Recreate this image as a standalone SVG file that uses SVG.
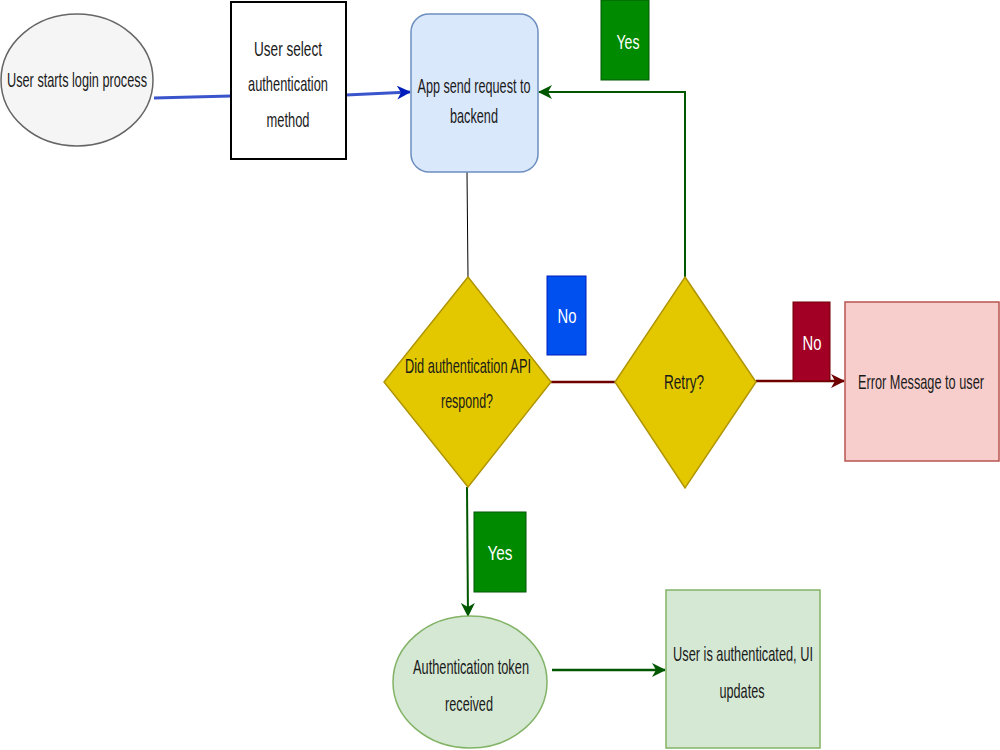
<svg xmlns="http://www.w3.org/2000/svg" width="1000" height="750" viewBox="0 0 1000 750">
<style>
text{font-family:"Liberation Sans",Arial,sans-serif;font-size:21px;fill:#1a1a1a;text-anchor:middle}
.lbl{fill:#ffffff}
.conn{fill:none}
</style>
<defs>
<marker id="aBlue" markerUnits="userSpaceOnUse" markerWidth="14" markerHeight="14" viewBox="0 0 14 14" refX="13" refY="7" orient="auto">
<path d="M0,0 L14,7 L0,14 L4,7 z" fill="#001dbc"/>
</marker>
<marker id="aGreen" markerUnits="userSpaceOnUse" markerWidth="14" markerHeight="14" viewBox="0 0 14 14" refX="13" refY="7" orient="auto">
<path d="M0,0 L14,7 L0,14 L4,7 z" fill="#005700"/>
</marker>
<marker id="aRed" markerUnits="userSpaceOnUse" markerWidth="14" markerHeight="14" viewBox="0 0 14 14" refX="13" refY="7" orient="auto">
<path d="M0,0 L14,7 L0,14 L4,7 z" fill="#6f0000"/>
</marker>
</defs>
<rect width="1000" height="750" fill="#ffffff"/>

<g id="connectors">
<path class="conn" d="M154,98 L231,96" stroke="#3a55cc" stroke-width="3"/>
<path class="conn" d="M346,95 L410,92" stroke="#3a55cc" stroke-width="3" marker-end="url(#aBlue)"/>
<path class="conn" d="M467,172 L468,277" stroke="#000000" stroke-width="1"/>
<path class="conn" d="M551,382 L615,382" stroke="#6f0000" stroke-width="2.5"/>
<path class="conn" d="M756,381 L844,381" stroke="#6f0000" stroke-width="2.5" marker-end="url(#aRed)"/>
<path class="conn" d="M685,277 L685,92 L539,92" stroke="#005700" stroke-width="2" marker-end="url(#aGreen)"/>
<path class="conn" d="M467,487 L468,616" stroke="#005700" stroke-width="2" marker-end="url(#aGreen)"/>
<path class="conn" d="M552,670 L665,670" stroke="#005700" stroke-width="2.5" marker-end="url(#aGreen)"/>
</g>

<g id="start">
<ellipse cx="77" cy="80" rx="76" ry="66" fill="#f5f5f5" stroke="#666666" stroke-width="1.5"/>
<text x="77" y="87" textLength="140" lengthAdjust="spacingAndGlyphs">User starts login process</text>
</g>

<g id="select">
<rect x="231" y="2" width="115" height="157" fill="#ffffff" stroke="#000000" stroke-width="2"/>
<text x="288" y="56" textLength="68" lengthAdjust="spacingAndGlyphs">User select</text>
<text x="288" y="91" textLength="80" lengthAdjust="spacingAndGlyphs">authentication</text>
<text x="288" y="127" textLength="43" lengthAdjust="spacingAndGlyphs">method</text>
</g>

<g id="request">
<rect x="411" y="14" width="127" height="158" rx="18" ry="18" fill="#dae8fc" stroke="#6c8ebf" stroke-width="1.5"/>
<text x="474" y="93" textLength="113" lengthAdjust="spacingAndGlyphs">App send request to</text>
<text x="474" y="123" textLength="48" lengthAdjust="spacingAndGlyphs">backend</text>
</g>

<g id="api">
<polygon points="468,277 551,382 468,487 384,382" fill="#e3c800" stroke="#b09500" stroke-width="1.5"/>
<text x="468" y="373" textLength="126" lengthAdjust="spacingAndGlyphs">Did authentication API</text>
<text x="467" y="408" textLength="52" lengthAdjust="spacingAndGlyphs">respond?</text>
</g>

<g id="retry">
<polygon points="685,277 756,382 685,488 615,382" fill="#e3c800" stroke="#b09500" stroke-width="1.5"/>
<text x="684" y="389" textLength="40" lengthAdjust="spacingAndGlyphs">Retry?</text>
</g>

<g id="error">
<rect x="845" y="302" width="154" height="159" fill="#f8cecc" stroke="#b85450" stroke-width="1.5"/>
<text x="921" y="389" textLength="126" lengthAdjust="spacingAndGlyphs">Error Message to user</text>
</g>

<g id="token">
<ellipse cx="470" cy="682" rx="77" ry="66" fill="#d5e8d4" stroke="#82b366" stroke-width="1.5"/>
<text x="471" y="674" textLength="116" lengthAdjust="spacingAndGlyphs">Authentication token</text>
<text x="469" y="711" textLength="48" lengthAdjust="spacingAndGlyphs">received</text>
</g>

<g id="authenticated">
<rect x="666" y="590" width="154" height="158" fill="#d5e8d4" stroke="#82b366" stroke-width="1.5"/>
<text x="743" y="661" textLength="140" lengthAdjust="spacingAndGlyphs">User is authenticated, UI</text>
<text x="742" y="698" textLength="45" lengthAdjust="spacingAndGlyphs">updates</text>
</g>

<g id="label-yes-retry">
<rect x="601" y="0" width="48" height="80" fill="#008a00" stroke="#005700" stroke-width="1"/>
<text class="lbl" x="628" y="49" textLength="23" lengthAdjust="spacingAndGlyphs">Yes</text>
</g>

<g id="label-no-api">
<rect x="547" y="276" width="39" height="79" fill="#0050ef" stroke="#001dbc" stroke-width="1"/>
<text class="lbl" x="567" y="323" textLength="19" lengthAdjust="spacingAndGlyphs">No</text>
</g>

<g id="label-no-retry">
<rect x="793" y="302" width="37" height="79" fill="#a20025" stroke="#6f0000" stroke-width="1"/>
<text class="lbl" x="812" y="350" textLength="19" lengthAdjust="spacingAndGlyphs">No</text>
</g>

<g id="label-yes-api">
<rect x="474" y="512" width="52" height="80" fill="#008a00" stroke="#005700" stroke-width="1"/>
<text class="lbl" x="500" y="560" textLength="25" lengthAdjust="spacingAndGlyphs">Yes</text>
</g>
</svg>
